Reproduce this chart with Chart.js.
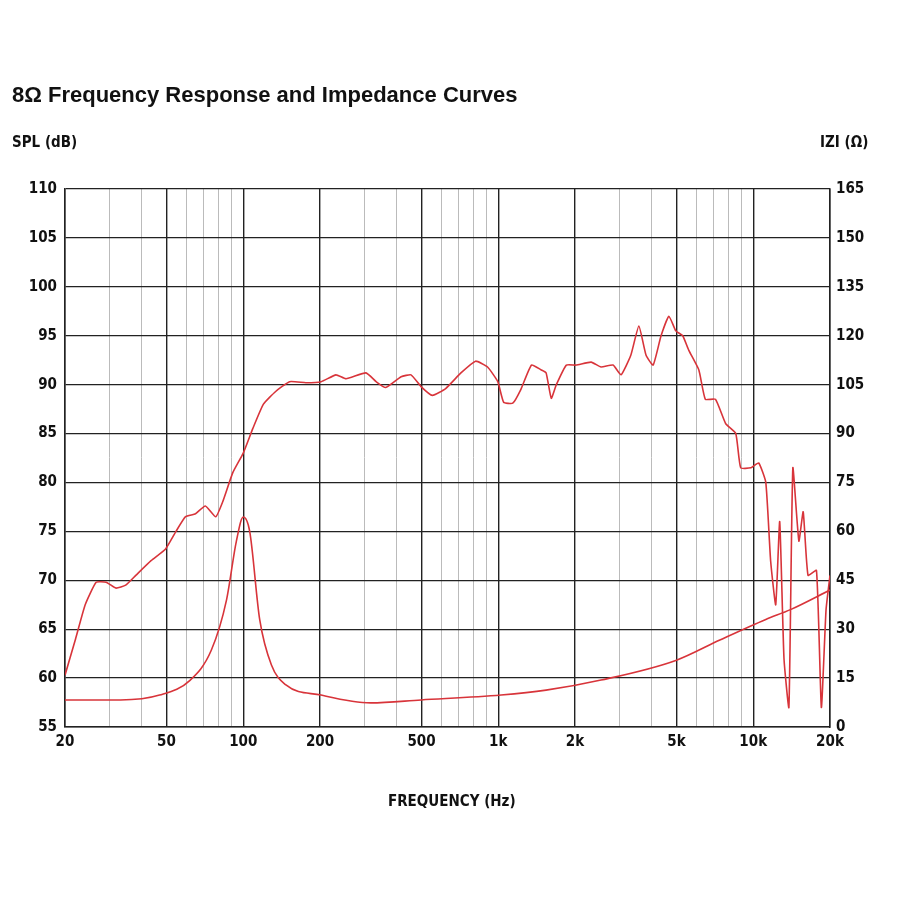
<!DOCTYPE html>
<html><head><meta charset="utf-8">
<script src="https://cdn.jsdelivr.net/npm/chart.js@4"></script>
<style>
body{margin:0;background:#fff;width:900px;height:900px;position:relative;overflow:hidden;font-family:"Liberation Sans",Arial,sans-serif}
.t{position:absolute;color:#111}
</style></head><body>
<canvas id="c" width="900" height="900" style="position:absolute;left:0;top:0"></canvas>
<div class="t" style="left:12px;top:82px;font-size:22px;font-weight:bold">8Ω Frequency Response and Impedance Curves</div>
<div class="t" style="left:12px;top:133px;font-size:15px;font-weight:bold;font-family:'Liberation Sans Narrow','DejaVu Sans Condensed';">SPL (dB)</div>
<div class="t" style="left:820px;top:133px;font-size:15px;font-weight:bold;font-family:'Liberation Sans Narrow','DejaVu Sans Condensed';">IZI (Ω)</div>
<div class="t" style="left:388px;top:792px;font-size:15px;font-weight:bold;font-family:'Liberation Sans Narrow','DejaVu Sans Condensed';">FREQUENCY (Hz)</div>
<script>
const splFreq=[20,22,24,26.5,29,31.7,34.6,37.9,43.5,49.6,54.5,59.4,65,71,78,83,91,100,109,120,134,152,176,202,231,253,303,332,362,416,455,498,552,622,714,815,908,996,1050,1140,1226,1350,1475,1541,1614,1690,1850,2020,2315,2530,2820,3030,3310,3560,3800,4050,4350,4670,4970,5290,5590,6120,6490,7110,7800,8540,8930,9790,10500,11200,11700,12250,12700,13200,13800,14300,15100,15700,16400,17700,18500,19300,20000];
const splDb=[60.3,64,67.5,69.8,69.8,69.2,69.5,70.5,72,73.2,75,76.5,76.8,77.6,76.5,78,81,83,85.5,88,89.3,90.3,90.2,90.3,91,90.6,91.2,90.3,89.7,90.8,91,89.8,88.9,89.6,91.2,92.4,91.8,90.3,88.2,88.1,89.5,92,91.5,91.2,88.6,90,92,92,92.3,91.8,92,91,93,96,93,92,95,97,95.5,95,93.5,91.5,88.5,88.5,86,85,81.5,81.5,82,80,72,67.5,76,62,57,81.5,74,77,70.5,71,57,67,70.5];
const impFreq=[20,33,47,62,75,86,94,100,106,116,129,147,202,316,498,1026,1540,2530,5000,7400,11200,14000,20000];
const impOhm=[8.3,8.3,9.8,14.4,23.6,39,57,64.4,60,33,19,12.9,9.8,7.4,8.3,9.8,11.3,14.4,20.5,26.7,33,36,42];
const xTicks=[20,30,40,50,60,70,80,90,100,200,300,400,500,600,700,800,900,1000,2000,3000,4000,5000,6000,7000,8000,9000,10000,20000];
const xLabels={20:'20',50:'50',100:'100',200:'200',500:'500',1000:'1k',2000:'2k',5000:'5k',10000:'10k',20000:'20k'};
const majors=[20,50,100,200,500,1000,2000,5000,10000,20000];
const red='#d8343a';
const tickFont={family:"'Liberation Sans Narrow','DejaVu Sans Condensed'",size:15,weight:'bold'};
new Chart(document.getElementById('c'),{
type:'line',
data:{datasets:[
{data:splFreq.map((f,i)=>({x:f,y:splDb[i]})),borderColor:red,borderWidth:1.6,pointRadius:0,tension:0.15,yAxisID:'y'},
{data:impFreq.map((f,i)=>({x:f,y:impOhm[i]})),borderColor:red,borderWidth:1.6,pointRadius:0,cubicInterpolationMode:'monotone',yAxisID:'y2'}
]},
options:{responsive:false,animation:false,
layout:{padding:{left:0,right:0,top:189,bottom:0}},
plugins:{legend:{display:false},tooltip:{enabled:false}},
scales:{
x:{type:'logarithmic',min:20,max:20000,
afterBuildTicks:s=>{s.ticks=xTicks.map(v=>({value:v}));},
afterFit:s=>{s.height=173;},
ticks:{autoSkip:false,maxRotation:0,color:'#111',font:tickFont,padding:6,callback:v=>xLabels[v]||''},
grid:{color:c=>majors.includes(c.tick&&c.tick.value)?'#222':'#bbb',lineWidth:c=>majors.includes(c.tick&&c.tick.value)?1.4:1,drawTicks:false},
border:{color:'#222',width:1.5}},
y:{position:'left',min:55,max:110,
afterBuildTicks:s=>{const t=[];for(let v=55;v<=110;v+=5)t.push({value:v});s.ticks=t;},
afterFit:s=>{s.width=65;},
ticks:{color:'#111',font:tickFont,padding:8},
grid:{color:'#222',lineWidth:1.2,drawTicks:false},border:{color:'#222',width:1.5}},
y2:{position:'right',min:0,max:165,
afterBuildTicks:s=>{const t=[];for(let v=0;v<=165;v+=15)t.push({value:v});s.ticks=t;},
afterFit:s=>{s.width=70;},
ticks:{color:'#111',font:tickFont,padding:6},
grid:{display:false,drawTicks:false},border:{color:'#222',width:1.5}}
}}});
</script></body></html>
